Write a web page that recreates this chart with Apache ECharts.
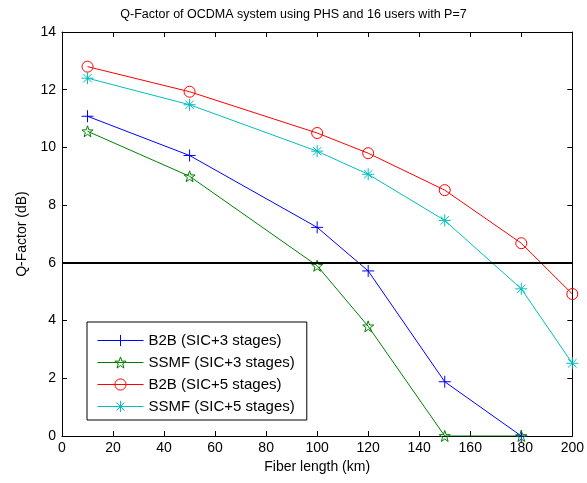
<!DOCTYPE html>
<html>
<head>
<meta charset="utf-8">
<script src="https://cdn.jsdelivr.net/npm/echarts@6/dist/echarts.min.js"></script>
<style>
  html, body { margin: 0; padding: 0; background: #fff; }
  #chart { width: 587px; height: 483px; }
</style>
</head>
<body>
<div id="chart"></div>
<script>
// fiber length (km)
var lengths = [10, 50, 100, 120, 150, 180, 200];
// Q-factor (dB)
var b2b3 = [11.08, 9.72, 7.23, 5.72, 1.88, 0, null];
var ssmf3 = [10.56, 9.0, 5.9, 3.8, 0, 0, null];
var b2b5 = [12.8, 11.93, 10.5, 9.8, 8.52, 6.68, 4.92];
var ssmf5 = [12.4, 11.48, 9.87, 9.07, 7.47, 5.1, 2.52];
var names = ['B2B (SIC+3 stages)', 'SSMF (SIC+3 stages)', 'B2B (SIC+5 stages)', 'SSMF (SIC+5 stages)'];
var colors = ['#0000ff', '#008000', '#ff0000', '#00bfbf'];
var threshold = 6;

var plusPath = 'path://M0,5L10,5M5,0L5,10';
var starPath = 'path://M5,0L6.176,3.382L9.755,3.455L6.902,5.618L7.939,9.045L5,7L2.061,9.045L3.098,5.618L0.245,3.455L3.824,3.382Z';
var astPath = 'path://M0,5L10,5M5,0L5,10M1.5,1.5L8.5,8.5M1.5,8.5L8.5,1.5';

function pairs(vals) {
  var out = [];
  for (var i = 0; i < lengths.length; i++) {
    if (vals[i] !== null) out.push([lengths[i], vals[i]]);
  }
  return out;
}

function mkSeries(i, vals, symbol, size) {
  return {
    name: names[i],
    type: 'line',
    data: pairs(vals),
    symbol: symbol,
    symbolSize: size,
    showAllSymbol: true,
    lineStyle: { color: colors[i], width: 1 },
    itemStyle: { color: 'rgba(0,0,0,0)', borderColor: colors[i], borderWidth: 1 },
    emphasis: { disabled: true },
    z: 3
  };
}

var font = 'Liberation Sans, Arial, sans-serif';
var tickCommon = {
  min: 0, axisLine: { show: true, onZero: false, lineStyle: { color: '#000', width: 1 } },
  axisTick: { show: true, inside: true, length: 5, lineStyle: { color: '#000' } },
  splitLine: { show: false }
};

var myChart = echarts.init(document.getElementById('chart'));
var series = [
  mkSeries(0, b2b3, plusPath, 12),
  mkSeries(1, ssmf3, starPath, 11),
  mkSeries(2, b2b5, 'circle', 11),
  mkSeries(3, ssmf5, astPath, 12)
];
series[0].markLine = {
  silent: true,
  symbol: 'none',
  label: { show: false },
  lineStyle: { color: '#000', width: 2, type: 'solid' },
  data: [{ yAxis: threshold }]
};

var legendData = names.map(function (n, i) {
  return {
    name: n,
    itemStyle: { color: 'rgba(0,0,0,0)', borderColor: colors[i], borderWidth: 1 },
    lineStyle: { color: colors[i], width: 1 }
  };
});

var option = {
  animation: false,
  backgroundColor: '#fff',
  title: {
    text: 'Q-Factor of OCDMA system using PHS and 16 users with P=7',
    left: 'center', top: 3,
    textStyle: { fontFamily: font, fontSize: 12.5, fontWeight: 'normal', color: '#000' }
  },
  grid: { left: 62, right: 12, top: 32, bottom: 47 },
  legend: {
    left: 87, top: 322, orient: 'vertical',
    backgroundColor: '#fff', borderColor: '#000', borderWidth: 1,
    padding: [11, 12, 6, 10], itemGap: 7, itemWidth: 46, itemHeight: 14,
    lineStyle: { width: 1 },
    textStyle: { fontFamily: font, fontSize: 15, color: '#000' },
    data: legendData
  },
  xAxis: [
    Object.assign({}, tickCommon, {
      type: 'value', max: 200, interval: 20,
      name: 'Fiber length (km)', nameLocation: 'middle', nameGap: 24,
      nameTextStyle: { fontFamily: font, fontSize: 14, color: '#000' },
      axisLabel: { fontFamily: font, fontSize: 14, color: '#000', margin: 5 }
    }),
    Object.assign({}, tickCommon, {
      type: 'value', max: 200, interval: 20, position: 'top',
      axisLabel: { show: false }
    })
  ],
  yAxis: [
    Object.assign({}, tickCommon, {
      type: 'value', max: 14, interval: 2,
      name: 'Q-Factor (dB)', nameLocation: 'middle', nameGap: 33,
      nameTextStyle: { fontFamily: font, fontSize: 14, color: '#000' },
      axisLabel: { fontFamily: font, fontSize: 14, color: '#000', margin: 6 }
    }),
    Object.assign({}, tickCommon, {
      type: 'value', max: 14, interval: 2, position: 'right',
      axisLabel: { show: false }
    })
  ],
  series: series
};
myChart.setOption(option);
</script>
</body>
</html>
